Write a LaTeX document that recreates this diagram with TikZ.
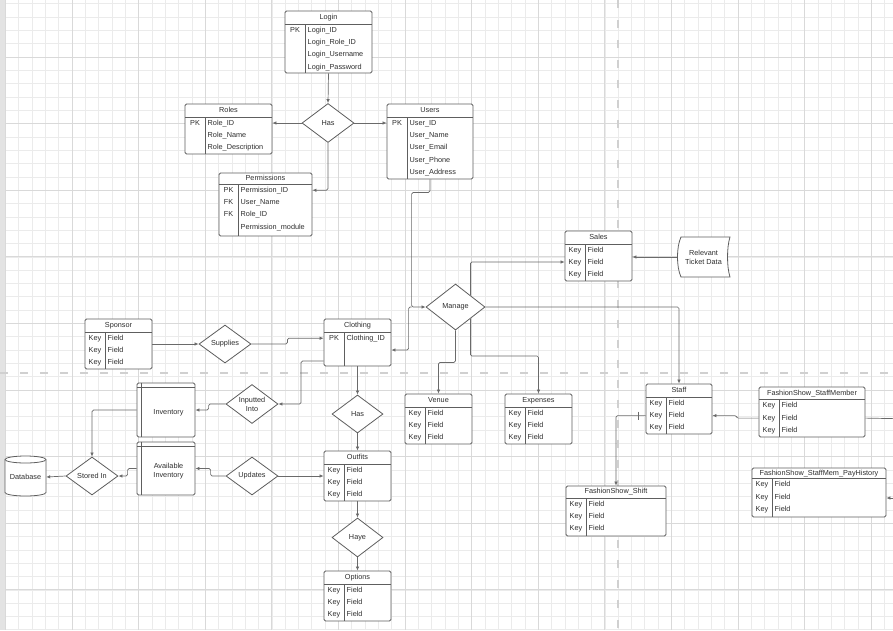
\documentclass[tikz,border=0pt]{standalone}
\usepackage{fontspec}
\setmainfont{Liberation Sans}
\usetikzlibrary{shapes.geometric,arrows.meta,fit}
\definecolor{gridminor}{HTML}{EBEBEB}
\definecolor{gridmajor}{HTML}{D9D9D9}
\definecolor{pbreak}{HTML}{D0D0D0}
\definecolor{stripc}{HTML}{E3E3E3}
\definecolor{boxc}{HTML}{5E5E5E}
\definecolor{linec}{HTML}{6A6A6A}
\definecolor{txtc}{HTML}{2E2E2E}
\tikzset{
  fnt/.style={font=\fontsize{7.3}{8.8}\selectfont, text=txtc},
  fixh/.style={text height=5.4pt, text depth=1.6pt},
  tbox/.style={draw=boxc, fill=white, rounded corners=1.5pt, inner sep=0pt, line width=0.8pt},
  inl/.style={draw=boxc, line width=0.8pt},
  kt/.style={fnt, fixh, inner sep=0pt},
  ft/.style={fnt, fixh, inner sep=0pt, anchor=west},
  ttl/.style={fnt, fixh, inner sep=0pt},
  dia/.style={diamond, draw=boxc, fill=white, line width=0.8pt, inner sep=0pt, fnt, align=center},
  arr/.style={draw=linec, line width=0.7pt, -{Latex[length=4pt,width=3.5pt]}, rounded corners=1.5pt},
  lin/.style={draw=linec, line width=0.7pt, rounded corners=1.5pt},
  gminor/.style={draw=gridminor, line width=0.6pt},
  gmajor/.style={draw=gridmajor, line width=0.7pt},
  pb/.style={draw=pbreak, line width=2.5pt, dash pattern=on 8pt off 12pt},
  shp/.style={draw=boxc, fill=white, line width=0.8pt}
}
% name, x1, y1, x2, y2, divider x, title, rows, header height
\newcommand\ertable[9]{%
  \pgfmathsetmacro\erhy{#3+#9}%
  \node[tbox, fit={(#2,#3) (#4,#5)}] (#1) {};%
  \draw[inl] (#2,\erhy) -- (#4,\erhy);%
  \draw[inl] (#6,\erhy) -- (#6,#5);%
  \node[ttl] (#1-t) at ({(#2+#4)/2},{(#3+\erhy)/2}) {#7};%
  \foreach \erk/\erf [count=\eri] in {#8} {%
    \node[kt] (#1-k\eri) at ({(#2+#6)/2},{\erhy+6.2+12.4*(\eri-1)}) {\erk};%
    \node[ft] (#1-f\eri) at ({#6+2.5},{\erhy+6.2+12.4*(\eri-1)}) {\erf};%
  }%
}
\begin{document}
\begin{tikzpicture}[x=1pt,y=-1pt]
\useasboundingbox (0,0) rectangle (893,630);
\clip (0,0) rectangle (893,630);
\fill[white] (0,0) rectangle (893,630);
% grid
\foreach \i in {0,...,66} \draw[gminor] ({5.4+13.32*\i},0) -- ({5.4+13.32*\i},630);
\foreach \i in {1,...,48} \draw[gminor] (0,{-9.6+13.32*\i}) -- (893,{-9.6+13.32*\i});
\foreach \i in {0,...,13} \draw[gmajor] ({5.4+66.6*\i},0) -- ({5.4+66.6*\i},630);
\foreach \i in {1,...,9} \draw[gmajor] (0,{-9.6+66.6*\i}) -- (893,{-9.6+66.6*\i});
\fill[stripc] (0,0) rectangle (5,630);
% page breaks
\draw[pb] (0,373) -- (893,373);
\draw[pb] (618,0) -- (618,630);

% tables
\ertable{login}{285}{11}{372}{73}{305}{Login}{PK/Login\_ID,/Login\_Role\_ID,/Login\_Username,/Login\_Password}{13}
\ertable{roles}{185}{104}{272}{154}{205}{Roles}{PK/Role\_ID,/Role\_Name,/Role\_Description}{13}
\ertable{users}{387}{104}{473}{179}{407}{Users}{PK/User\_ID,/User\_Name,/User\_Email,/User\_Phone,/User\_Address}{13}
\ertable{perm}{219}{173}{312}{236}{238}{Permissions}{PK/Permission\_ID,FK/User\_Name,FK/Role\_ID,/Permission\_module}{11}
\ertable{sales}{565}{231}{632}{281}{585}{Sales}{Key/Field,Key/Field,Key/Field}{13}
\ertable{sponsor}{85}{319}{152}{369}{105}{Sponsor}{Key/Field,Key/Field,Key/Field}{13}
\ertable{clothing}{324}{319}{391}{366}{344}{Clothing}{PK/Clothing\_ID}{13}
\ertable{venue}{405}{394}{472}{444}{425}{Venue}{Key/Field,Key/Field,Key/Field}{13}
\ertable{expenses}{505}{394}{572}{444}{525}{Expenses}{Key/Field,Key/Field,Key/Field}{13}
\ertable{staff}{646}{384}{712}{434}{666}{Staff}{Key/Field,Key/Field,Key/Field}{13}
\ertable{sm}{759}{387}{865}{437}{779}{FashionShow\_StaffMember}{Key/Field,Key/Field,Key/Field}{12.5}
\ertable{shift}{566}{486}{666}{536}{586}{FashionShow\_Shift}{Key/Field,Key/Field,Key/Field}{12}
\ertable{ph}{752}{468}{886}{517}{772}{FashionShow\_StaffMem\_PayHistory}{Key/Field,Key/Field,Key/Field}{10.5}
\ertable{outfits}{324}{451}{391}{501}{344}{Outfits}{Key/Field,Key/Field,Key/Field}{13}
\ertable{options}{324}{571}{391}{621}{344}{Options}{Key/Field,Key/Field,Key/Field}{13}

% diamonds
\node[dia, minimum width=52pt, minimum height=39pt, aspect=1.33] (has1) at (328,123) {Has};
\node[dia, minimum width=59pt, minimum height=46pt, aspect=1.28] (manage) at (455.5,307) {Manage};
\node[dia, minimum width=52pt, minimum height=38pt, aspect=1.37] (supplies) at (225,344) {Supplies};
\node[dia, minimum width=52pt, minimum height=39pt, aspect=1.33] (inputted) at (252,404) {Inputted\\Into};
\node[dia, minimum width=51pt, minimum height=38pt, aspect=1.34] (has2) at (357.5,414) {Has};
\node[dia, minimum width=52pt, minimum height=38pt, aspect=1.37] (updates) at (252,476) {Updates};
\node[dia, minimum width=52pt, minimum height=38pt, aspect=1.37] (storedin) at (92,476) {Stored In};
\node[dia, minimum width=51pt, minimum height=39pt, aspect=1.31] (haye) at (357.5,537.5) {Haye};

% inventory boxes
\node[tbox, minimum width=58pt, minimum height=54pt] (inv) at (166,410) {};
\draw[inl] ([xshift=5pt]inv.north west) -- ([xshift=5pt]inv.south west);
\draw[inl] ([yshift=-5pt]inv.north west) -- ([yshift=-5pt]inv.north east);
\node[fnt, inner sep=0pt] (inv-t) at (168.5,412.5) {Inventory};
\node[tbox, minimum width=58pt, minimum height=53pt] (avail) at (166,468.5) {};
\draw[inl] ([xshift=5pt]avail.north west) -- ([xshift=5pt]avail.south west);
\draw[inl] ([yshift=-5pt]avail.north west) -- ([yshift=-5pt]avail.north east);
\node[fnt, inner sep=0pt, align=center] (avail-t) at (168.5,471) {Available\\Inventory};

% database cylinder
\draw[shp] (5,459.5) -- (5,492.5) arc[start angle=180, end angle=360, x radius=20.5pt, y radius=3.5pt]
  -- (46,459.5) arc[start angle=0, end angle=180, x radius=20.5pt, y radius=3.5pt] -- cycle;
\draw[inl] (5,459.5) arc[start angle=180, end angle=360, x radius=20.5pt, y radius=3.5pt];
\node[fnt, inner sep=0pt, minimum width=41pt, minimum height=30pt] (db) at (25.5,477) {Database};

% relevant ticket data
\draw[shp] (681,237) -- (730,237) .. controls (726.7,247) and (726.7,267) .. (730,277)
  -- (681,277) .. controls (676.3,267) and (676.3,247) .. (681,237) -- cycle;
\node[fnt, inner sep=0pt, align=center, minimum width=53pt, minimum height=40pt] (rtd) at (703.5,257) {Relevant\\Ticket Data};

% connectors
\draw[arr] (login.south) -- (has1.north);
\draw[arr] (has1.west) -- (has1.west -| roles.east);
\draw[arr] (has1.east) -- (has1.east -| users.west);
\draw[arr] (has1.south) |- (perm.east |- perm-k1);
\draw[arr] (users.south) -- ++(0,13) -| ([xshift=-14pt]manage.west) -- (manage.west);
\draw[arr] ([xshift=-14pt]manage.west) -- ++(-3,0) |- ([yshift=-7.5pt]clothing.east);
\draw[arr] (manage.north east) |- ([yshift=-6pt]sales.west);
\draw[arr] (rtd.west) -- (rtd.west -| sales.east);
\draw[arr] (manage.east) -| (staff.north);
\draw[arr] (manage.south) -- ++(0,32) -| (venue.north);
\draw[arr] (manage.south east) -- (manage.south east |- 0,356) -| (expenses.north);
\draw[arr] (sm.west |- sm-k2) -- ++(-22,0) |- (staff.east |- staff-k2);
\coordinate (redge1) at (893,418.6);
\draw[lin] (sm.east |- sm-k2) -- (redge1);
\coordinate (redge2) at (893,498);
\draw[arr] (redge2) -- (ph.east |- redge2);
\draw[arr] (staff.west |- staff-k2) -| (shift.north);
\draw[lin] (638,411.6) -- (638,419.6);
\draw[arr] (sponsor.east) -- (supplies.west);
\draw[arr] (supplies.east) -- ++(36,0) |- (clothing.west |- clothing-k1);
\draw[arr] (clothing.west |- 0,361) -- (301,361) |- (inputted.east);
\draw[arr] (inputted.west) -- ++(-17,0) |- (inv.east);
\draw[arr] (inv.west) -| (storedin.north);
\draw[arr] (avail.west) -- ++(-9,0) |- (storedin.east);
\draw[arr] (storedin.west) -- (db.east);
\draw[arr] (updates.west) -- ++(-15,0) |- (avail.east);
\draw[arr] (updates.east) -- (updates.east -| outfits.west);
\draw[arr] (clothing.south) -- (has2.north);
\draw[arr] (has2.south) -- (outfits.north);
\draw[arr] (outfits.south) -- (haye.north);
\draw[arr] (haye.south) -- (options.north);
\end{tikzpicture}
\end{document}
